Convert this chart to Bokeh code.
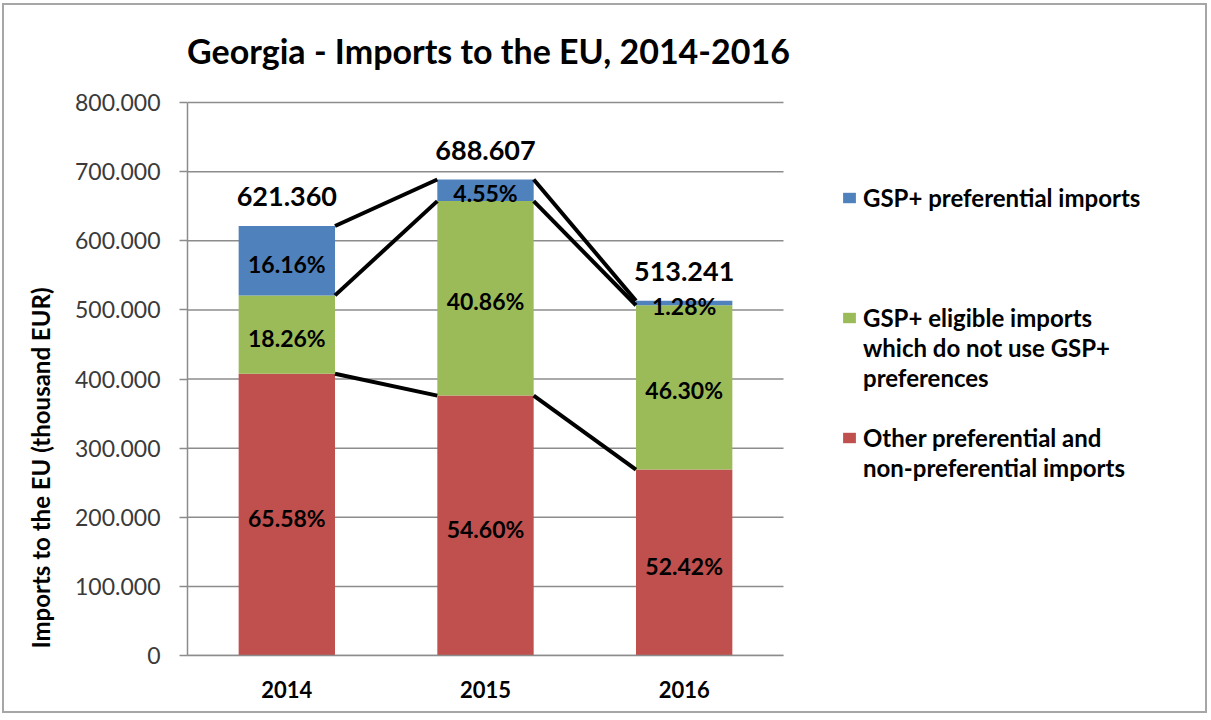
from bokeh.plotting import figure
from bokeh.models import (Range1d, FixedTicker, Legend, LegendItem, Title,
                          Label, ColumnDataSource)
from bokeh.core.properties import value
from bokeh.embed import file_html
from bokeh.resources import INLINE

# ---------------- data ----------------
years = ["2014", "2015", "2016"]
totals = [621360, 688607, 513241]                 # thousand EUR
pct_gsp = [16.16, 4.55, 1.28]                     # GSP+ preferential imports
pct_eligible = [18.26, 40.86, 46.30]              # GSP+ eligible, not using GSP+
pct_other = [65.58, 54.60, 52.42]                 # other pref. & non-pref.
series_names = [
    "GSP+ preferential imports",
    "GSP+ eligible imports\nwhich do not use GSP+\npreferences",
    "Other preferential and\nnon-preferential imports",
]
series_colors = ["#4F81BD", "#9BBB59", "#C0504D"]
y_ticks = [0, 100000, 200000, 300000, 400000, 500000, 600000, 700000, 800000]
y_tick_labels = ["0", "100.000", "200.000", "300.000", "400.000",
                 "500.000", "600.000", "700.000", "800.000"]
total_labels = ["621.360", "688.607", "513.241"]
title_text = "Georgia - Imports to the EU, 2014-2016"
y_title = "Imports to the EU (thousand EUR)"

FONT = "Lato"
BAR_W = 0.485

# ---------------- layout (pixels) ----------------
W, H = 1205, 710
LEFT = 183            # frame left edge
BOTTOM = 60           # space below the frame
TOP_GAP = 97          # space between canvas top and the top gridline
PLOT_W = 596          # width of the bar area

# ---------------- derived ----------------
xs = list(range(len(years)))
other = [t * p / 100 for t, p in zip(totals, pct_other)]
eligible = [t * p / 100 for t, p in zip(totals, pct_eligible)]
gsp = [t * p / 100 for t, p in zip(totals, pct_gsp)]
top1 = other
top2 = [a + b for a, b in zip(other, eligible)]
top3 = [a + b + c for a, b, c in zip(other, eligible, gsp)]

frame_w = W - LEFT
frame_h = H - BOTTOM
x_lo, x_hi_bars = -0.5, len(xs) - 0.5
x_hi = x_lo + (x_hi_bars - x_lo) * frame_w / PLOT_W
y_hi = y_ticks[-1] * frame_h / (frame_h - TOP_GAP)

src = ColumnDataSource(dict(x=xs, other=other, eligible=eligible, gsp=gsp))

p = figure(width=W, height=H, title=None,
           x_range=Range1d(x_lo, x_hi), y_range=Range1d(0, y_hi),
           output_backend="svg", toolbar_location=None,
           min_border_left=LEFT, min_border_right=0,
           min_border_top=0, min_border_bottom=BOTTOM)
p.styles = {"margin-left": "2px", "margin-top": "3px",
            "border": "2px solid #a6a6a6"}
p.outline_line_color = None
p.background_fill_color = "white"
p.border_fill_color = "white"

# grid lines (only across the bar area)
p.xgrid.visible = False
p.ygrid.visible = False
p.segment(x0=[x_lo] * len(y_ticks), y0=y_ticks,
          x1=[x_hi_bars] * len(y_ticks), y1=y_ticks,
          line_color="#8c8c8c", line_width=1.5)

# y axis
p.yaxis.bounds = (y_ticks[0], y_ticks[-1])
p.yaxis.ticker = FixedTicker(ticks=y_ticks)
p.yaxis.major_label_overrides = {t: l for t, l in zip(y_ticks, y_tick_labels)}
p.yaxis.axis_line_color = "#8c8c8c"
p.yaxis.axis_line_width = 1.5
p.yaxis.major_tick_line_color = "#8c8c8c"
p.yaxis.major_tick_line_width = 1.5
p.yaxis.major_tick_out = 8
p.yaxis.major_tick_in = 0
p.yaxis.minor_tick_line_color = None
p.yaxis.major_label_standoff = 19
p.yaxis.major_label_text_font = FONT
p.yaxis.major_label_text_font_size = "23px"
p.yaxis.major_label_text_color = "#3a3a3a"

# y-axis title
p.add_layout(Title(text=y_title, align="left", offset=7, standoff=36,
                   text_font=FONT, text_font_size="24px",
                   text_font_style="bold", text_color="black"), "left")

# x axis
p.xaxis.bounds = (x_lo, x_hi_bars)
p.xaxis.ticker = FixedTicker(ticks=xs)
p.xaxis.major_label_overrides = {i: y for i, y in zip(xs, years)}
p.xaxis.axis_line_color = "#8c8c8c"
p.xaxis.axis_line_width = 1.5
p.xaxis.major_tick_line_color = None
p.xaxis.minor_tick_line_color = None
p.xaxis.major_tick_out = 0
p.xaxis.major_label_standoff = 25
p.xaxis.major_label_text_font = FONT
p.xaxis.major_label_text_font_size = "22px"
p.xaxis.major_label_text_font_style = "bold"
p.xaxis.major_label_text_color = "black"

# bars
rends = p.vbar_stack(["other", "eligible", "gsp"], x="x", width=BAR_W,
                     color=[series_colors[2], series_colors[1], series_colors[0]],
                     line_color=None, source=src)
r_other, r_elig, r_gsp = rends

# series lines between bars
half = BAR_W / 2
seg = dict(x0=[], y0=[], x1=[], y1=[])
for tops in (top1, top2, top3):
    for i in range(len(xs) - 1):
        seg["x0"].append(xs[i] + half)
        seg["y0"].append(tops[i])
        seg["x1"].append(xs[i + 1] - half)
        seg["y1"].append(tops[i + 1])
p.segment("x0", "y0", "x1", "y1", source=ColumnDataSource(seg),
          line_color="black", line_width=4)

# percentage labels
lab_x, lab_y, lab_t = [], [], []
for i in xs:
    lab_x += [xs[i]] * 3
    lab_y += [other[i] / 2, other[i] + eligible[i] / 2,
              other[i] + eligible[i] + gsp[i] / 2]
    lab_t += [f"{pct_other[i]:.2f}%", f"{pct_eligible[i]:.2f}%",
              f"{pct_gsp[i]:.2f}%"]
p.text(x=lab_x, y=lab_y, text=lab_t, text_align="center",
       text_baseline="middle", y_offset=3, text_font=value(FONT),
       text_font_size="23px", text_font_style="bold", text_color="black")

# totals
p.text(x=xs, y=top3, text=total_labels, text_align="center",
       text_baseline="middle", y_offset=-29, text_font=value(FONT),
       text_font_size="27px", text_font_style="bold", text_color="black")

# chart title
p.add_layout(Label(x=301, y=605, x_units="screen", y_units="screen",
                   text=title_text, text_align="center",
                   text_baseline="middle", text_font=FONT,
                   text_font_size="34px", text_font_style="bold",
                   text_color="black"))

# legend: one row per text line, blank rows to space entries like the original
leg_rends = [r_gsp, r_elig, r_other]
rows = []
for k, (name, r) in enumerate(zip(series_names, leg_rends)):
    lines = name.split("\n")
    rows.append(LegendItem(label=lines[0], renderers=[r]))
    for ln in lines[1:]:
        rows.append(LegendItem(label=ln, renderers=[]))
    if k == 0:
        rows += [LegendItem(label=" ", renderers=[]) for _ in range(3)]
    elif k == 1:
        rows.append(LegendItem(label=" ", renderers=[]))
legend = Legend(items=rows, location=(654, 173), padding=0, margin=0,
                spacing=0, border_line_alpha=0, background_fill_alpha=0,
                glyph_width=16, glyph_height=13, label_height=30,
                label_standoff=6, label_text_font=FONT,
                label_text_font_size="24px", label_text_font_style="bold",
                label_text_color="black")
p.add_layout(legend)

open("out.html", "w").write(file_html(p, INLINE))
